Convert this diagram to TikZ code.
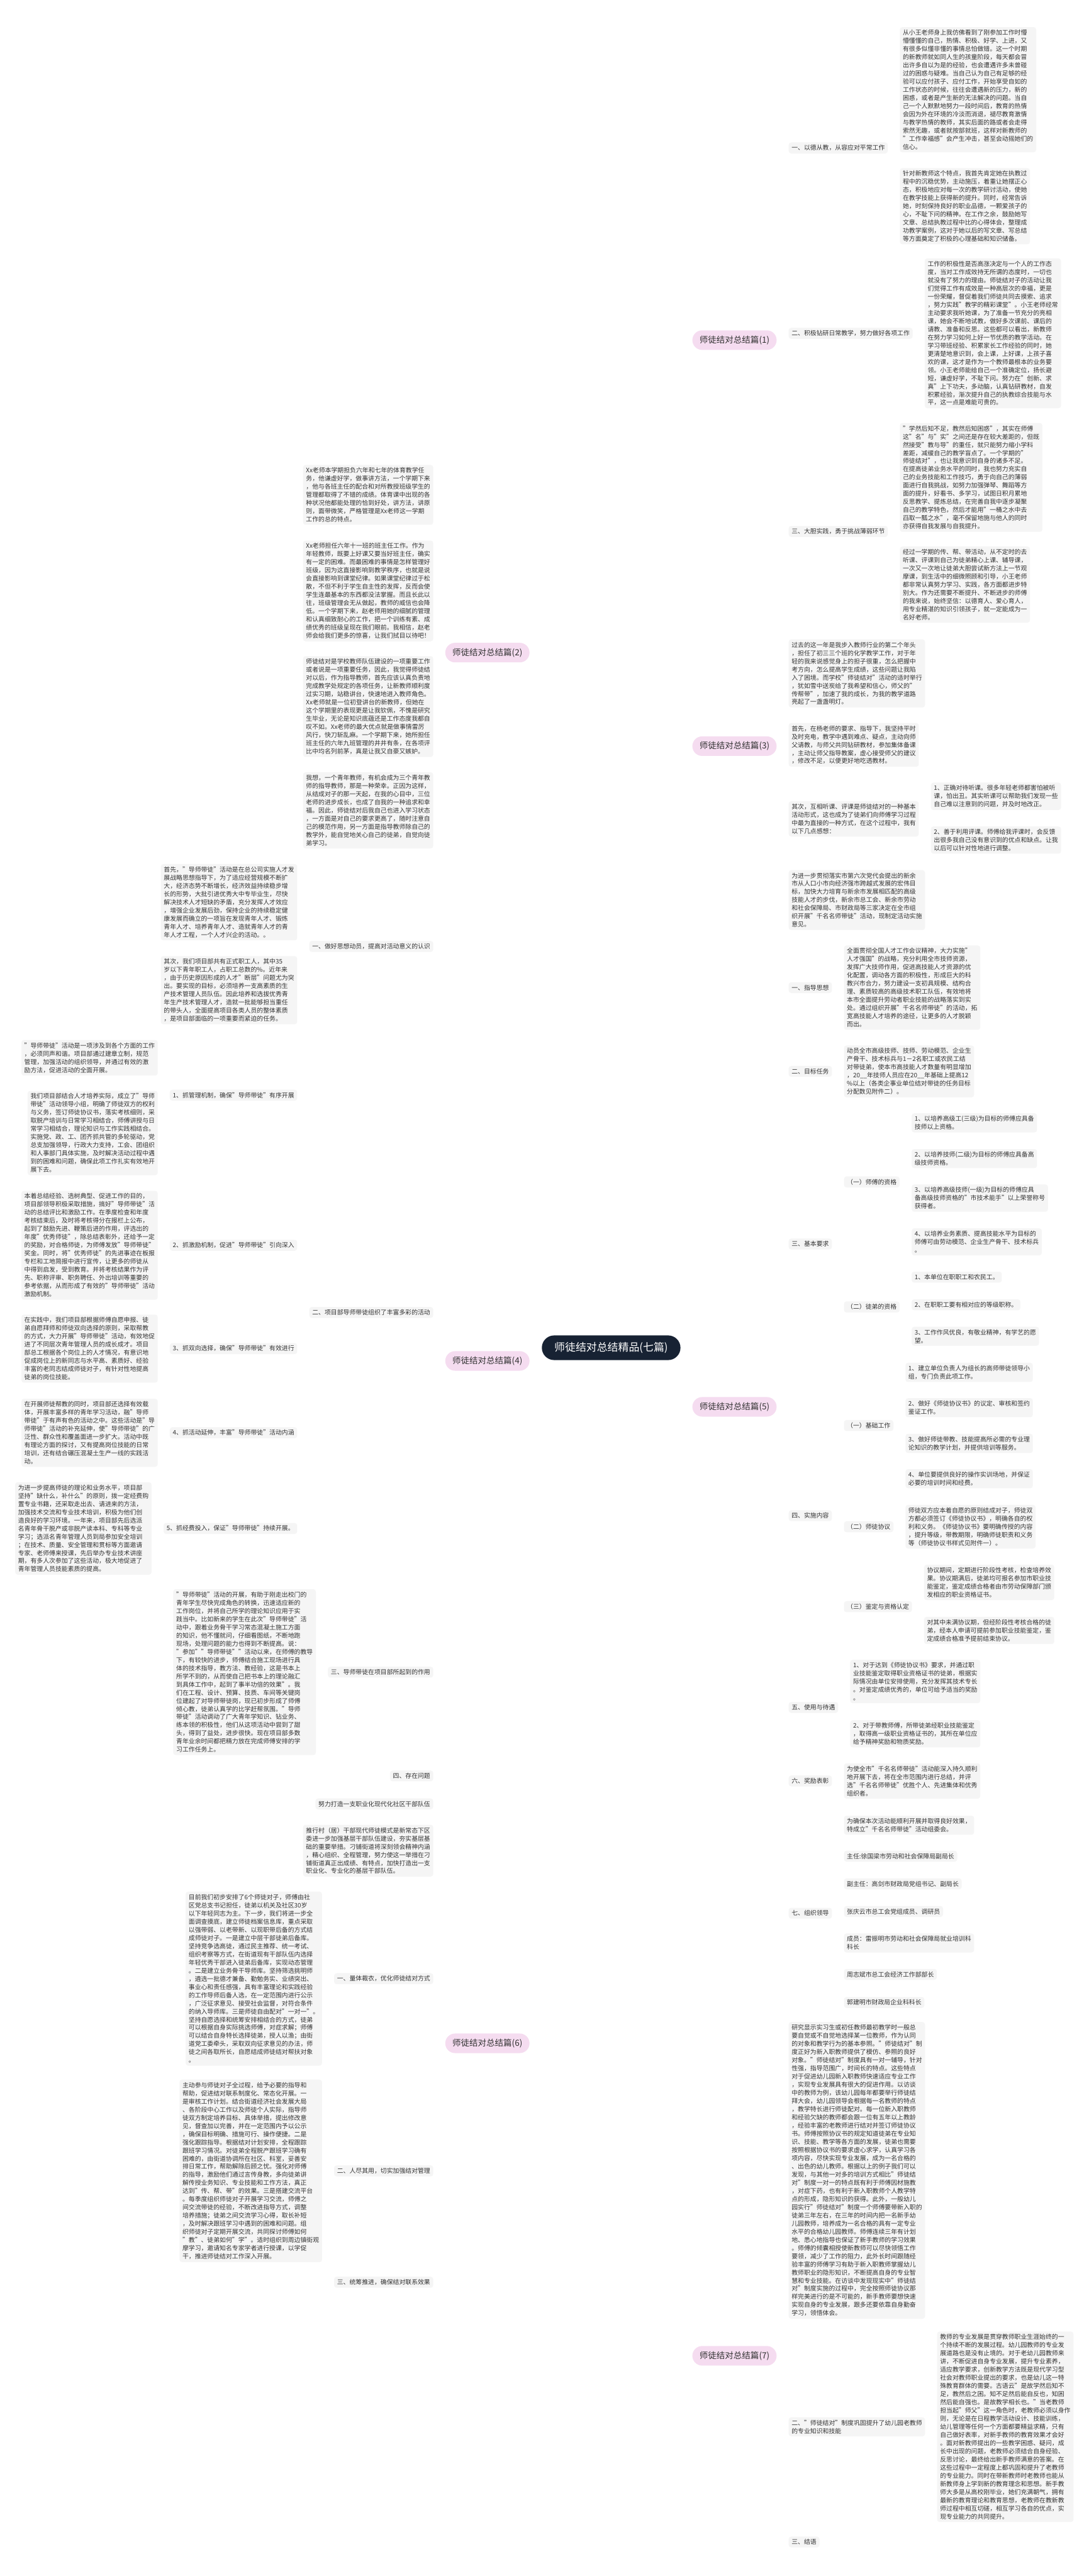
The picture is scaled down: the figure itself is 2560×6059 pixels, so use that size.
\documentclass[tikz,border=0pt]{standalone}
\usepackage{fontspec}
\setmainfont{Noto Sans CJK SC}
\usepackage{tikz}
\usetikzlibrary{positioning, backgrounds, calc}
\definecolor{rootfill}{HTML}{172233}
\definecolor{pinkfill}{HTML}{F5DCF0}
\definecolor{cardfill}{HTML}{F5F5F5}
\definecolor{inkline}{HTML}{1E2430}
\definecolor{inktext}{HTML}{333333}

\begin{document}
\begin{tikzpicture}[
    x=1pt, y=-1pt,
    rootnode/.style={rectangle, fill=rootfill, text=white, rounded corners=29pt, minimum width=326pt, minimum height=58pt, font=\fontsize{25}{30}\selectfont},
    sumnode/.style={rectangle, fill=pinkfill, text=inktext, rounded corners=23pt, minimum width=198pt, minimum height=46pt, font=\fontsize{20}{24}\selectfont},
    card/.style={rectangle, fill=cardfill, text=inktext, rounded corners=6pt, inner xsep=7pt, inner ysep=6pt, align=left, font=\fontsize{14.6}{19.2}\selectfont},
    trunk/.style={draw=inkline, line width=2.2pt},
    link/.style={draw=inkline, line width=2pt, rounded corners=10pt}
]
\useasboundingbox[fill=white] (0,0) rectangle (2560,6059);

% Centre
\node[rootnode] (root) at (1437,3170) {师徒结对总结精品(七篇)};

% Parts
\node[sumnode] (sum1) at (1727,800) {师徒结对总结篇(1)};
\node[sumnode] (sum2) at (1146,1535) {师徒结对总结篇(2)};
\node[sumnode] (sum3) at (1727,1755) {师徒结对总结篇(3)};
\node[sumnode] (sum4) at (1146,3201) {师徒结对总结篇(4)};
\node[sumnode] (sum5) at (1727,3309) {师徒结对总结篇(5)};
\node[sumnode] (sum6) at (1146,4806) {师徒结对总结篇(6)};
\node[sumnode] (sum7) at (1727,5541) {师徒结对总结篇(7)};

% Part 1
\node[card, anchor=west] (s1a) at ([shift={(28,-452)}]sum1.east) {一、以德从教，从容应对平常工作};
\node[card, anchor=west] (s1a1) at ([shift={(28,-137)}]s1a.east) {从小王老师身上我仿佛看到了刚参加工作时懵\\懵懂懂的自己，热情、积极、好学、上进，又\\有很多似懂非懂的事情总怕做错。这一个时期\\的新教师就如同人生的孩童阶段，每天都会冒\\出许多自以为是的经验，也会遭遇许多未曾碰\\过的困惑与疑难。当自己认为自己有足够的经\\验可以应付孩子、应付工作，开始享受自如的\\工作状态的时候，往往会遭遇新的压力，新的\\困惑，或者是产生新的无法解决的问题。当自\\己一个人默默地努力一段时间后，教育的热情\\会因为外在环境的冷淡而消退，褪尽教育激情\\与教学热情的教师，其实后面的路或者会走得\\索然无趣，或者就按部就班，这样对新教师的\\"工作幸福感"会产生冲击，甚至会动摇她们的\\信心。};
\node[card, anchor=west] (s1a2) at ([shift={(28,137)}]s1a.east) {针对新教师这个特点，我首先肯定她在执教过\\程中的沉稳优势，主动施压，着重让她摆正心\\态，积极地应对每一次的教学研讨活动，使她\\在教学技能上获得新的提升。同时，经常告诉\\她，时刻保持良好的职业品德，一颗爱孩子的\\心，不耻下问的精神。在工作之余，鼓励她写\\文章、总结执教过程中比的心得体会，整理成\\功教学案例，这对于她以后的写文章、写总结\\等方面奠定了积极的心理基础和知识储备。};
\node[card, anchor=west] (s1b) at ([shift={(28,-16)}]sum1.east) {二、积极钻研日常教学，努力做好各项工作};
\node[card, anchor=west] (s1b1) at ([shift={(28,0)}]s1b.east) {工作的积极性是否高涨决定与一个人的工作态\\度，当对工作成效持无所谓的态度时，一切也\\就没有了努力的理由。师徒结对子的活动让我\\们觉得工作有成效是一种高层次的幸福，更是\\一份荣耀，督促着我们师徒共同去摸索、追求\\，努力实践"教学的精彩课堂"。小王老师经常\\主动要求我听她课，为了准备一节充分的亮相\\课，她会不断地试教，做好多次课前、课后的\\请教、准备和反思。这些都可以看出，新教师\\在努力学习如何上好一节优质的教学活动。在\\学习带班经验、积累家长工作经验的同时，她\\更清楚地意识到，会上课，上好课，上孩子喜\\欢的课，这才是作为一个教师最根本的业务要\\领。小王老师能给自己一个准确定位，扬长避\\短，谦虚好学，不耻下问。努力在"创新、求\\真"上下功夫，多动脑，认真钻研教材，自发\\积累经验，渐次提升自己的执教综合技能与水\\平，这一点是难能可贵的。};
\node[card, anchor=west] (s1c) at ([shift={(28,450)}]sum1.east) {三、大胆实践，勇于挑战薄弱环节};
\node[card, anchor=west] (s1c1) at ([shift={(28,-127)}]s1c.east) {"学然后知不足，教然后知困惑"，其实在师傅\\这"名"与"实"之间还是存在较大差距的，但既\\然接受"教与导"的重任，就只能努力缩小学科\\差距，减缓自己的教学盲点了。一个学期的"\\师徒结对"，也让我意识到自身的诸多不足。\\在提高徒弟业务水平的同时，我也努力充实自\\己的业务技能和工作技巧，勇于向自己的薄弱\\面进行自我挑战，如努力加强弹琴、舞蹈等方\\面的提升，好看书、多学习，试图日积月累地\\反思教学、提炼总结，在完善自我中逐步凝聚\\自己的教学特色，然后才能用"一桶之水中去\\舀取一瓢之水"，毫不保留地施与他人的同时\\亦获得自我发展与自我提升。};
\node[card, anchor=west] (s1c2) at ([shift={(28,125)}]s1c.east) {经过一学期的传、帮、带活动，从不定时的去\\听课、评课到自己为徒弟精心上课、辅导课，\\一次又一次地让徒弟大胆尝试新方法上一节观\\摩课，到生活中的细微照顾和引导，小王老师\\都非常认真努力学习、实践，各方面都进步特\\别大。作为还需要不断提升、不断进步的师傅\\的我来说，始终坚信：以德育人、爱心育人，\\用专业精湛的知识引领孩子，就一定能成为一\\名好老师。};

% Part 2
\node[card, anchor=east] (s2a) at ([shift={(-28,-371)}]sum2.west) {Xx老师本学期担负六年和七年的体育教学任\\务，他谦虚好学，做事讲方法，一个学期下来\\，他与各班主任的配合和对所教授班级学生的\\管理都取得了不错的成绩。体育课中出现的各\\种状况他都能处理的恰到好处，讲方法，讲原\\则，面带微笑，严格管理是Xx老师这一学期\\工作的总的特点。};
\node[card, anchor=east] (s2b) at ([shift={(-28,-145)}]sum2.west) {Xx老师担任六年十一班的班主任工作。作为\\年轻教师，既要上好课又要当好班主任，确实\\有一定的困难。而最困难的事情是怎样管理好\\班级，因为这直接影响到教学秩序，也就是说\\会直接影响到课堂纪律。如果课堂纪律过于松\\散，不但不利于学生自主性的发挥，反而会使\\学生连最基本的东西都没法掌握。而且长此以\\往，班级管理会无从做起，教师的威信也会降\\低。一个学期下来，赵老师用她的细腻的管理\\和认真细致耐心的工作，把一个训练有素、成\\绩优秀的班级呈现在我们眼前。我相信，赵老\\师会给我们更多的惊喜，让我们拭目以待吧！};
\node[card, anchor=east] (s2c) at ([shift={(-28,127)}]sum2.west) {师徒结对是学校教师队伍建设的一项重要工作\\或者说是一项重要任务，因此，我觉得师徒结\\对以后，作为指导教师，首先应该认真负责地\\完成教学处规定的各项任务，让新教师顺利度\\过实习期，站稳讲台，快速地进入教师角色。\\Xx老师就是一位初登讲台的新教师，但她在\\这个学期里的表现更是让我钦佩，不愧是研究\\生毕业，无论是知识底蕴还是工作态度我都自\\叹不如。Xx老师的最大优点就是做事情雷厉\\风行，快刀斩乱麻。一个学期下来，她所担任\\班主任的六年九班管理的井井有条，在各项评\\比中均名列前茅，真是让我又自豪又嫉妒。};
\node[card, anchor=east] (s2d) at ([shift={(-28,371)}]sum2.west) {我想，一个青年教师，有机会成为三个青年教\\师的指导教师，那是一种荣幸。正因为这样，\\从结成对子的那一天起，在我的心目中，三位\\老师的进步成长，也成了自我的一种追求和幸\\福。因此，师徒结对后我自己也进入学习状态\\，一方面是对自己的要求更高了，随时注意自\\己的模范作用，另一方面是指导教师除自己的\\教学外，能自觉地关心自己的徒弟，自觉向徒\\弟学习。};

% Part 3
\node[card, anchor=west] (s3a) at ([shift={(28,-171)}]sum3.east) {过去的这一年是我步入教师行业的第二个年头\\，担任了初三三个班的化学教学工作，对于年\\轻的我来说感觉身上的担子很重，怎么把握中\\考方向，怎么提高学生成绩，这些问题让我陷\\入了困境。而学校"师徒结对"活动的适时举行\\，犹如雪中送炭给了我希望和信心，师父的"\\传帮带"，加速了我的成长，为我的教学道路\\亮起了一盏盏明灯。};
\node[card, anchor=west] (s3b) at ([shift={(28,-3)}]sum3.east) {首先，在杨老师的要求、指导下，我坚持平时\\及时充电，教学中遇到难点、疑点，主动向师\\父请教，与师父共同钻研教材，参加集体备课\\，主动让师父指导教案，虚心接受师父的建议\\，修改不足，以便更好地吃透教材。};
\node[card, anchor=west] (s3c) at ([shift={(28,171)}]sum3.east) {其次，互相听课、评课是师徒结对的一种基本\\活动形式，这也成为了徒弟们向师傅学习过程\\中最为直接的一种方式，在这个过程中，我有\\以下几点感想：};
\node[card, anchor=west] (s3c1) at ([shift={(28,-53)}]s3c.east) {1、正确对待听课。很多年轻老师都害怕被听\\课，怕出丑。其实听课可以帮助我们发现一些\\自己难以注意到的问题，并及时地改正。};
\node[card, anchor=west] (s3c2) at ([shift={(28,50)}]s3c.east) {2、善于利用评课。师傅给我评课时，会反馈\\出很多我自己没有意识到的优点和缺点。让我\\以后可以针对性地进行调整。};

% Part 4
\node[card, anchor=east] (s4a) at ([shift={(-28,-975)}]sum4.west) {一、做好思想动员，提高对活动意义的认识};
\node[card, anchor=east] (s4a1) at ([shift={(-28,-104)}]s4a.west) {首先，"导师带徒"活动是在总公司实施人才发\\展战略思想指导下，为了适应经营规模不断扩\\大，经济态势不断增长，经济效益持续稳步增\\长的形势，大批引进优秀大中专毕业生，尽快\\解决技术人才短缺的矛盾，充分发挥人才效应\\，增强企业发展后劲，保持企业的持续稳定健\\康发展而确立的一项旨在发现青年人才、锻炼\\青年人才、培养青年人才、造就青年人才的青\\年人才工程，一个人才兴企的活动。。};
\node[card, anchor=east] (s4a2) at ([shift={(-28,103)}]s4a.west) {其次，我们项目部共有正式职工人，其中35\\岁以下青年职工人，占职工总数的\%。近年来\\，由于历史原因形成的人才"断层"问题尤为突\\出。要实现的目标，必须培养一支高素质的生\\产技术管理人员队伍。因此培养和选拔优秀青\\年生产技术管理人才，造就一批能够担当重任\\的带头人，全面提高项目各类人员的整体素质\\，是项目部面临的一项重要而紧迫的任务。};
\node[card, anchor=east] (s4b) at ([shift={(-28,-114)}]sum4.west) {二、项目部导师带徒组织了丰富多彩的活动};
\node[card, anchor=east] (s4b1) at ([shift={(-28,-511)}]s4b.west) {1、抓管理机制，确保"导师带徒"有序开展};
\node[card, anchor=east] (s4b1a) at ([shift={(-28,-88)}]s4b1.west) {"导师带徒"活动是一项涉及到各个方面的工作\\，必须同声和谐。项目部通过建章立制，规范\\管理，加强活动的组织领导，并通过有效的激\\励方法，促进活动的全面开展。};
\node[card, anchor=east] (s4b1b) at ([shift={(-28,89)}]s4b1.west) {我们项目部结合人才培养实际，成立了"导师\\带徒"活动领导小组，明确了师徒双方的权利\\与义务，签订师徒协议书，落实考核细则，采\\取脱产培训与日常学习相结合，师傅讲授与日\\常学习相结合，理论知识与工作实践相结合。\\实施党、政、工、团齐抓共管的多轮驱动，党\\总支加强领导，行政大力支持，工会、团组织\\和人事部门具体实施，及时解决活动过程中遇\\到的困难和问题，确保此项工作扎实有效地开\\展下去。};
\node[card, anchor=east] (s4b2) at ([shift={(-28,-158)}]s4b.west) {2、抓激励机制，促进"导师带徒"引向深入};
\node[card, anchor=east] (s4b2a) at ([shift={(-28,0)}]s4b2.west) {本着总结经验、选树典型、促进工作的目的，\\项目部领导积极采取措施，搞好"导师带徒"活\\动的总结评比和激励工作。在季度检查和年度\\考核结束后，及时将考核得分在报栏上公布，\\起到了鼓励先进、鞭策后进的作用，评选出的\\年度"优秀师徒"，除总结表彰外，还给予一定\\的奖励，对合格师徒，为师傅发放"导师带徒"\\奖金。同时，将"优秀师徒"的先进事迹在板报\\专栏和工地简报中进行宣传，让更多的师徒从\\中得到启发，受到教育。并将考核结果作为评\\先、职称评审、职务聘任、外出培训等重要的\\参考依据，从而形成了有效的"导师带徒"活动\\激励机制。};
\node[card, anchor=east] (s4b3) at ([shift={(-28,85)}]s4b.west) {3、抓双向选择，确保"导师带徒"有效进行};
\node[card, anchor=east] (s4b3a) at ([shift={(-28,0)}]s4b3.west) {在实践中，我们项目部根据师傅自愿申报、徒\\弟自愿拜师和师徒双向选择的原则，采取帮教\\的方式，大力开展"导师带徒"活动，有效地促\\进了不同层次青年管理人员的成长成才。项目\\部总工根据各个岗位上的人才情况，有意识地\\促成岗位上的新同志与水平高、素质好、经验\\丰富的老同志结成师徒对子，有针对性地提高\\徒弟的岗位技能。};
\node[card, anchor=east] (s4b4) at ([shift={(-28,283)}]s4b.west) {4、抓活动延伸，丰富"导师带徒"活动内涵};
\node[card, anchor=east] (s4b4a) at ([shift={(-28,0)}]s4b4.west) {在开展师徒帮教的同时，项目部还选择有效载\\体，开展丰富多样的青年学习活动，融"导师\\带徒"于有声有色的活动之中。这些活动是"导\\师带徒"活动的补充延伸，使"导师带徒"的广\\泛性、群众性和覆盖面进一步扩大。活动中既\\有理论方面的探讨，又有提高岗位技能的日常\\培训，还有结合碾压混凝土生产一线的实践活\\动。};
\node[card, anchor=east] (s4b5) at ([shift={(-28,508)}]s4b.west) {5、抓经费投入，保证"导师带徒"持续开展。};
\node[card, anchor=east] (s4b5a) at ([shift={(-28,0)}]s4b5.west) {为进一步提高师徒的理论和业务水平，项目部\\坚持"缺什么，补什么"的原则，拨一定经费购\\置专业书籍，还采取走出去、请进来的方法，\\加强技术交流和专业技术培训，积极为他们创\\造良好的学习环境。一年来，项目部先后选派\\名青年骨干脱产或非脱产读本科、专科等专业\\学习；选派名青年管理人员到局参加安全培训\\；在技术、质量、安全管理和贯标等方面邀请\\专家、老师傅来授课，先后举办专业技术讲座\\期，有多人次参加了这些活动，极大地促进了\\青年管理人员技能素质的提高。};
\node[card, anchor=east] (s4c) at ([shift={(-28,732)}]sum4.west) {三、导师带徒在项目部所起到的作用};
\node[card, anchor=east] (s4c1) at ([shift={(-28,0)}]s4c.west) {"导师带徒"活动的开展，有助于刚走出校门的\\青年学生尽快完成角色的转换，迅速适应新的\\工作岗位，并将自己所学的理论知识应用于实\\践当中。比如新来的学生在此次"导师带徒"活\\动中，跟着业务骨干学习常态混凝土施工方面\\的知识，他不懂就问，仔细看图纸，不断地跑\\现场，处理问题的能力也得到不断提高。说：\\"参加""导师带徒""活动以来，在师傅的教导\\下，有较快的进步，师傅结合施工现场进行具\\体的技术指导，教方法、教经验，这是书本上\\所学不到的，从而使自己把书本上的理论融汇\\到具体工作中，起到了事半功倍的效果"。我\\们在工程、设计、预算、技质、车间等关键岗\\位建起了对导师带徒岗，现已初步形成了师傅\\倾心教，徒弟认真学的比学赶帮氛围。"导师\\带徒"活动调动了广大青年学知识、钻业务、\\练本领的积极性，他们从这项活动中尝到了甜\\头，得到了益处，进步很快。现在项目部多数\\青年业余时间都把精力放在完成师傅安排的学\\习工作任务上。};
\node[card, anchor=east] (s4d) at ([shift={(-28,976)}]sum4.west) {四、存在问题};

% Part 5
\node[card, anchor=west] (s5a) at ([shift={(28,-1192)}]sum5.east) {为进一步贯彻落实市第六次党代会提出的新余\\市从人口小市向经济强市跨越式发展的宏伟目\\标，加快大力培育与新余市发展相匹配的高级\\技能人才的步伐，新余市总工会、新余市劳动\\和社会保障局、市财政局等三家决定在全市组\\织开展"千名名师带徒"活动，现制定活动实施\\意见。};
\node[card, anchor=west] (s5b) at ([shift={(28,-986)}]sum5.east) {一、指导思想};
\node[card, anchor=west] (s5b1) at ([shift={(28,0)}]s5b.east) {全面贯彻全国人才工作会议精神，大力实施"\\人才强国"的战略，充分利用全市技师资源，\\发挥广大技师作用，促进高技能人才资源的优\\化配置，调动各方面的积极性，形成巨大的科\\教兴市合力，努力建设一支初具规模、结构合\\理、素质较高的高级技术职工队伍，有效地将\\本市全面提升劳动者职业技能的战略落实到实\\处。通过组织开展"千名名师带徒"的活动，拓\\宽高技能人才培养的途径，让更多的人才脱颖\\而出。};
\node[card, anchor=west] (s5c) at ([shift={(28,-789)}]sum5.east) {二、目标任务};
\node[card, anchor=west] (s5c1) at ([shift={(28,0)}]s5c.east) {动员全市高级技师、技师、劳动模范、企业生\\产骨干、技术标兵与1－2名职工或农民工结\\对带徒弟，使本市高技能人才数量有明显增加\\，20\_\_年技师人员应在20\_\_年基础上提高12\\\%以上（各类企事业单位结对带徒的任务目标\\分配数见附件二）。};
\node[card, anchor=west] (s5d) at ([shift={(28,-383)}]sum5.east) {三、基本要求};
\node[card, anchor=west] (s5d1) at ([shift={(28,-146)}]s5d.east) {（一）师傅的资格};
\node[card, anchor=west] (s5d1a) at ([shift={(28,-139)}]s5d1.east) {1、以培养高级工(三级)为目标的师傅应具备\\技师以上资格。};
\node[card, anchor=west] (s5d1b) at ([shift={(28,-55)}]s5d1.east) {2、以培养技师(二级)为目标的师傅应具备高\\级技师资格。};
\node[card, anchor=west] (s5d1c) at ([shift={(28,38)}]s5d1.east) {3、以培养高级技师(一级)为目标的师傅应具\\备高级技师资格的"市技术能手"以上荣誉称号\\获得者。};
\node[card, anchor=west] (s5d1d) at ([shift={(28,141)}]s5d1.east) {4、以培养业务素质、提高技能水平为目标的\\师傅可由劳动模范、企业生产骨干、技术标兵\\。};
\node[card, anchor=west] (s5d2) at ([shift={(28,148)}]s5d.east) {（二）徒弟的资格};
\node[card, anchor=west] (s5d2a) at ([shift={(28,-70)}]s5d2.east) {1、本单位在职职工和农民工。};
\node[card, anchor=west] (s5d2b) at ([shift={(28,-5)}]s5d2.east) {2、在职职工要有相对应的等级职称。};
\node[card, anchor=west] (s5d2c) at ([shift={(28,69)}]s5d2.east) {3、工作作风优良，有敬业精神，有学艺的愿\\望。};
\node[card, anchor=west] (s5e) at ([shift={(28,256)}]sum5.east) {四、实施内容};
\node[card, anchor=west] (s5e1) at ([shift={(28,-212)}]s5e.east) {（一）基础工作};
\node[card, anchor=west] (s5e1a) at ([shift={(28,-125)}]s5e1.east) {1、建立单位负责人为组长的高师带徒领导小\\组，专门负责此项工作。};
\node[card, anchor=west] (s5e1b) at ([shift={(28,-42)}]s5e1.east) {2、做好《师徒协议书》的议定、审核和签约\\鉴证工作。};
\node[card, anchor=west] (s5e1c) at ([shift={(28,42)}]s5e1.east) {3、做好师徒带教、技能提高所必需的专业理\\论知识的教学计划，并提供培训等服务。};
\node[card, anchor=west] (s5e1d) at ([shift={(28,125)}]s5e1.east) {4、单位要提供良好的操作实训场地，并保证\\必要的培训时间和经费。};
\node[card, anchor=west] (s5e2) at ([shift={(28,26)}]s5e.east) {（二）师徒协议};
\node[card, anchor=west] (s5e2a) at ([shift={(28,0)}]s5e2.east) {师徒双方应本着自愿的原则结成对子，师徒双\\方都必须签订《师徒协议书》，明确各自的权\\利和义务。《师徒协议书》要明确传授的内容\\，提升等级，带教期限，明确师徒职责和义务\\等（师徒协议书样式见附件一）。};
\node[card, anchor=west] (s5e3) at ([shift={(28,214)}]s5e.east) {（三）鉴定与资格认定};
\node[card, anchor=west] (s5e3a) at ([shift={(28,-57)}]s5e3.east) {协议期间，定期进行阶段性考核，检查培养效\\果。协议期满后，徒弟均可报名参加市职业技\\能鉴定，鉴定成绩合格者由市劳动保障部门颁\\发相应的职业资格证书。};
\node[card, anchor=west] (s5e3b) at ([shift={(28,56)}]s5e3.east) {对其中未满协议期，但经阶段性考核合格的徒\\弟，经本人申请可提前参加职业技能鉴定，鉴\\定成绩合格准予提前结束协议。};
\node[card, anchor=west] (s5f) at ([shift={(28,707)}]sum5.east) {五、使用与待遇};
\node[card, anchor=west] (s5f1) at ([shift={(28,-61)}]s5f.east) {1、对于达到《师徒协议书》要求，并通过职\\业技能鉴定取得职业资格证书的徒弟，根据实\\际情况由单位安排使用，充分发挥其技术专长\\。对鉴定成绩优秀的，单位可给予适当的奖励\\。};
\node[card, anchor=west] (s5f2) at ([shift={(28,62)}]s5f.east) {2、对于带教师傅，所带徒弟经职业技能鉴定\\，取得高一级职业资格证书的，其所在单位应\\给予精神奖励和物质奖励。};
\node[card, anchor=west] (s5g) at ([shift={(28,880)}]sum5.east) {六、奖励表彰};
\node[card, anchor=west] (s5g1) at ([shift={(28,0)}]s5g.east) {为使全市"千名名师带徒"活动能深入持久顺利\\地开展下去，将在全市范围内进行总结，并评\\选"千名名师带徒"优胜个人、先进集体和优秀\\组织者。};
\node[card, anchor=west] (s5h) at ([shift={(28,1191)}]sum5.east) {七、组织领导};
\node[card, anchor=west] (s5h1) at ([shift={(28,-207)}]s5h.east) {为确保本次活动能顺利开展并取得良好效果，\\特成立"千名名师带徒"活动组委会。};
\node[card, anchor=west] (s5h2) at ([shift={(28,-134)}]s5h.east) {主任:徐国梁市劳动和社会保障局副局长};
\node[card, anchor=west] (s5h3) at ([shift={(28,-69)}]s5h.east) {副主任：高剑市财政局党组书记、副局长};
\node[card, anchor=west] (s5h4) at ([shift={(28,-4)}]s5h.east) {张庆云市总工会党组成员、调研员};
\node[card, anchor=west] (s5h5) at ([shift={(28,70)}]s5h.east) {成员：雷振明市劳动和社会保障局就业培训科\\科长};
\node[card, anchor=west] (s5h6) at ([shift={(28,144)}]s5h.east) {周志斌市总工会经济工作部部长};
\node[card, anchor=west] (s5h7) at ([shift={(28,210)}]s5h.east) {郭建明市财政局企业科科长};

% Part 6
\node[card, anchor=east] (s6a) at ([shift={(-28,-563)}]sum6.west) {努力打造一支职业化现代化社区干部队伍};
\node[card, anchor=east] (s6b) at ([shift={(-28,-453)}]sum6.west) {推行村（居）干部现代师徒模式是新常态下区\\委进一步加强基层干部队伍建设，夯实基层基\\础的重要举措。刁铺街道将深刻领会精神内涵\\，精心组织、全程管理，努力使这一举措在刁\\铺街道真正出成绩、有特点，加快打造出一支\\职业化、专业化的基层干部队伍。};
\node[card, anchor=east] (s6c) at ([shift={(-28,-152)}]sum6.west) {一、量体裁衣，优化师徒结对方式};
\node[card, anchor=east] (s6c1) at ([shift={(-28,0)}]s6c.west) {目前我们初步安排了6个师徒对子，师傅由社\\区党总支书记担任，徒弟以机关及社区30岁\\以下年轻同志为主。下一步，我们将进一步全\\面调查摸底，建立师徒档案信息库，重点采取\\以强带弱、以老带新、以现职带后备的方式结\\成师徒对子。一是建立中层干部徒弟后备库。\\坚持竞争选高徒，通过民主推荐、统一考试、\\组织考察等方式，在街道现有干部队伍内选择\\年轻优秀干部进入徒弟后备库，实现动态管理\\。二是建立业务骨干导师库。坚持筛选挑明师\\，遴选一批德才兼备、勤勉务实、业绩突出、\\事业心和责任感强，具有丰富理论和实践经验\\的工作导师后备人选，在一定范围内进行公示\\，广泛征求意见、接受社会监督，对符合条件\\的纳入导师库。三是师徒自由配对"一对一"。\\坚持自愿选择和统筹安排相结合的方式，徒弟\\可以根据自身实际挑选师傅，对症求解；师傅\\可以结合自身特长选择徒弟，授人以渔；由街\\道党工委牵头，采取双向征求意见的办法，师\\徒之间各取所长，自愿结成师徒结对帮扶对象\\。};
\node[card, anchor=east] (s6d) at ([shift={(-28,300)}]sum6.west) {二、人尽其用，切实加强结对管理};
\node[card, anchor=east] (s6d1) at ([shift={(-28,0)}]s6d.west) {主动参与师徒对子全过程，给予必要的指导和\\帮助，促进结对联系制度化、常态化开展。一\\是审核工作计划。结合街道经济社会发展大局\\、各阶段中心工作以及师徒个人实际，指导师\\徒双方制定培养目标、具体举措，提出修改意\\见，督查加以完善，并在一定范围内予以公示\\，确保目标明确、措施可行、操作便捷。二是\\强化跟踪指导。根据结对计划安排，全程跟踪\\跟班学习情况。对徒弟全程脱产跟班学习确有\\困难的，由街道协调所在社区、科室，妥善安\\排日常工作，帮助解除后顾之忧。强化对师傅\\的指导，激励他们通过言传身教，多向徒弟讲\\解传授业务知识、专业技能和工作方法，真正\\达到"传、帮、带"的效果。三是搭建交流平台\\。每季度组织师徒对子开展学习交流，师傅之\\间交流带徒的经验，不断改进指导方式，调整\\培养措施；徒弟之间交流学习心得，取长补短\\，及时解决跟班学习中遇到的困难和问题。组\\织师徒对子定期开展交流，共同探讨师傅如何\\"教"、徒弟如何"学"。适时组织到周边镇街观\\摩学习，邀请知名专家学者进行授课，以学促\\干，推进师徒结对工作深入开展。};
\node[card, anchor=east] (s6e) at ([shift={(-28,562)}]sum6.west) {三、统筹推进，确保结对联系效果};

% Part 7
\node[card, anchor=west] (s7a) at ([shift={(28,-436)}]sum7.east) {研究显示实习生或初任教师最初教学时一般总\\要自觉或不自觉地选择某一位教师，作为认同\\的对象和教学行为的基本参照。"师徒结对"制\\度正好为新入职教师提供了模仿、参照的良好\\对象。"师徒结对"制度具有一对一辅导，针对\\性强，指导范围广，时间长的特点。这些特点\\对于促进幼儿园新入职教师快速适应专业工作\\，实现专业发展具有很大的促进作用。以访谈\\中的教师为例，该幼儿园每年都要举行师徒结\\拜大会，幼儿园领导会根据每一名教师的特点\\，教学特长进行师徒配对。每一位新入职教师\\和经验欠缺的教师都会跟一位有五年以上教龄\\，经验丰富的老教师进行结对并签订师徒协议\\书。师傅按照协议书的规定知道徒弟在专业知\\识、技能、教学等各方面的发展，徒弟也需要\\按照根据协议书的要求虚心求学，认真学习各\\项内容，尽快实现专业发展，成为一名合格的\\、出色的幼儿教师。根据以上的例子我们可以\\发现，与其他一对多的培训方式相比"师徒结\\对"制度一对一的特点既有利于师傅因材施教\\，对症下药，也有利于新入职教师个人教学特\\点的形成，隐形知识的获得。此外，一般幼儿\\园实行"师徒结对"制度一个师傅要带新入职的\\徒弟三年左右，在三年的时间内把一名新手幼\\儿园教师，培养成为一名合格的具有一定专业\\水平的合格幼儿园教师。师傅连续三年有计划\\地、悉心地指导也保证了新手教师的学习效果\\。师傅的倾囊相授使新教师可以尽快领悟工作\\要领，减少了工作的阻力，此外长时间跟随经\\验丰富的师傅学习有助于新入职教师掌握幼儿\\教师职业的隐形知识，不断提高自身的专业智\\慧和专业技能。在访谈中发现现实中"师徒结\\对"制度实施的过程中，完全按照师徒协议那\\样完美进行的是不可能的，新手教师要想快速\\实现自身的专业发展，跟多还要依靠自身勤奋\\学习，领悟体会。};
\node[card, anchor=west] (s7b) at ([shift={(28,167)}]sum7.east) {二、"师徒结对"制度巩固提升了幼儿园老教师\\的专业知识和技能};
\node[card, anchor=west] (s7b1) at ([shift={(28,0)}]s7b.east) {教师的专业发展是贯穿教师职业生涯始终的一\\个持续不断的发展过程。幼儿园教师的专业发\\展道路也是没有止境的。对于老幼儿园教师来\\讲，不断促进自身专业发展，提升专业素养，\\适应教学要求，创新教学方法既是现代学习型\\社会对教师职业提出的要求，也是幼儿这一特\\殊教育群体的需要。古语云"是故学然后知不\\足，教然后之困。知不足然后能自反也，知困\\然后能自强也。是故教学相长也。"当老教师\\担当起"师父"这一角色时，老教师必须以身作\\则，无论是在日程教学活动设计、技能训练，\\幼儿管理等任何一个方面都要精益求精，只有\\自己做好表率，对新手教师的教育效果才会好\\。面对新教师提出的一些教学困惑、疑问，成\\长中出现的问题，老教师必须结合自身经验、\\反思讨论，最终给出新手教师满意的答案。在\\这些过程中一定程度上都巩固和提升了老教师\\的专业能力。同时在带新教师时老教师也能从\\新教师身上学到新的教育理念和思想。新手教\\师大多是从高校刚毕业，她们充满朝气，拥有\\最新的教育理论和教育思想，老教师在教新教\\师过程中相互切磋，相互学习各自的优点，实\\现专业能力的共同提升。};
\node[card, anchor=west] (s7c) at ([shift={(28,438)}]sum7.east) {三、结语};

\begin{scope}[on background layer]
% Trunk curves
\draw[trunk] (root.center) .. controls (root.center |- sum1) .. (sum1.west);
\draw[trunk] (root.center) .. controls (root.center |- sum2) .. (sum2.east);
\draw[trunk] (root.center) .. controls (root.center |- sum3) .. (sum3.west);
\draw[trunk] (root.center) .. controls (root.center |- sum4) .. (sum4.east);
\draw[trunk] (root.center) .. controls (root.center |- sum5) .. (sum5.west);
\draw[trunk] (root.center) .. controls (root.center |- sum6) .. (sum6.east);
\draw[trunk] (root.center) .. controls (root.center |- sum7) .. (sum7.west);

% Part 1 links
\draw[link] (sum1.east) -- ++(14,0) |- (s1a.west);
\draw[link] (sum1.east) -- ++(14,0) |- (s1b.west);
\draw[link] (sum1.east) -- ++(14,0) |- (s1c.west);
\draw[link] (s1a.east) -- ++(14,0) |- (s1a1.west);
\draw[link] (s1a.east) -- ++(14,0) |- (s1a2.west);
\draw[link] (s1b.east) -- ++(14,0) |- (s1b1.west);
\draw[link] (s1c.east) -- ++(14,0) |- (s1c1.west);
\draw[link] (s1c.east) -- ++(14,0) |- (s1c2.west);

% Part 2 links
\draw[link] (sum2.west) -- ++(-14,0) |- (s2a.east);
\draw[link] (sum2.west) -- ++(-14,0) |- (s2b.east);
\draw[link] (sum2.west) -- ++(-14,0) |- (s2c.east);
\draw[link] (sum2.west) -- ++(-14,0) |- (s2d.east);

% Part 3 links
\draw[link] (sum3.east) -- ++(14,0) |- (s3a.west);
\draw[link] (sum3.east) -- ++(14,0) |- (s3b.west);
\draw[link] (sum3.east) -- ++(14,0) |- (s3c.west);
\draw[link] (s3c.east) -- ++(14,0) |- (s3c1.west);
\draw[link] (s3c.east) -- ++(14,0) |- (s3c2.west);

% Part 4 links
\draw[link] (sum4.west) -- ++(-14,0) |- (s4a.east);
\draw[link] (sum4.west) -- ++(-14,0) |- (s4b.east);
\draw[link] (sum4.west) -- ++(-14,0) |- (s4c.east);
\draw[link] (sum4.west) -- ++(-14,0) |- (s4d.east);
\draw[link] (s4a.west) -- ++(-14,0) |- (s4a1.east);
\draw[link] (s4a.west) -- ++(-14,0) |- (s4a2.east);
\draw[link] (s4b.west) -- ++(-14,0) |- (s4b1.east);
\draw[link] (s4b.west) -- ++(-14,0) |- (s4b2.east);
\draw[link] (s4b.west) -- ++(-14,0) |- (s4b3.east);
\draw[link] (s4b.west) -- ++(-14,0) |- (s4b4.east);
\draw[link] (s4b.west) -- ++(-14,0) |- (s4b5.east);
\draw[link] (s4b1.west) -- ++(-14,0) |- (s4b1a.east);
\draw[link] (s4b1.west) -- ++(-14,0) |- (s4b1b.east);
\draw[link] (s4b2.west) -- ++(-14,0) |- (s4b2a.east);
\draw[link] (s4b3.west) -- ++(-14,0) |- (s4b3a.east);
\draw[link] (s4b4.west) -- ++(-14,0) |- (s4b4a.east);
\draw[link] (s4b5.west) -- ++(-14,0) |- (s4b5a.east);
\draw[link] (s4c.west) -- ++(-14,0) |- (s4c1.east);

% Part 5 links
\draw[link] (sum5.east) -- ++(14,0) |- (s5a.west);
\draw[link] (sum5.east) -- ++(14,0) |- (s5b.west);
\draw[link] (sum5.east) -- ++(14,0) |- (s5c.west);
\draw[link] (sum5.east) -- ++(14,0) |- (s5d.west);
\draw[link] (sum5.east) -- ++(14,0) |- (s5e.west);
\draw[link] (sum5.east) -- ++(14,0) |- (s5f.west);
\draw[link] (sum5.east) -- ++(14,0) |- (s5g.west);
\draw[link] (sum5.east) -- ++(14,0) |- (s5h.west);
\draw[link] (s5b.east) -- ++(14,0) |- (s5b1.west);
\draw[link] (s5c.east) -- ++(14,0) |- (s5c1.west);
\draw[link] (s5d.east) -- ++(14,0) |- (s5d1.west);
\draw[link] (s5d.east) -- ++(14,0) |- (s5d2.west);
\draw[link] (s5d1.east) -- ++(14,0) |- (s5d1a.west);
\draw[link] (s5d1.east) -- ++(14,0) |- (s5d1b.west);
\draw[link] (s5d1.east) -- ++(14,0) |- (s5d1c.west);
\draw[link] (s5d1.east) -- ++(14,0) |- (s5d1d.west);
\draw[link] (s5d2.east) -- ++(14,0) |- (s5d2a.west);
\draw[link] (s5d2.east) -- ++(14,0) |- (s5d2b.west);
\draw[link] (s5d2.east) -- ++(14,0) |- (s5d2c.west);
\draw[link] (s5e.east) -- ++(14,0) |- (s5e1.west);
\draw[link] (s5e.east) -- ++(14,0) |- (s5e2.west);
\draw[link] (s5e.east) -- ++(14,0) |- (s5e3.west);
\draw[link] (s5e1.east) -- ++(14,0) |- (s5e1a.west);
\draw[link] (s5e1.east) -- ++(14,0) |- (s5e1b.west);
\draw[link] (s5e1.east) -- ++(14,0) |- (s5e1c.west);
\draw[link] (s5e1.east) -- ++(14,0) |- (s5e1d.west);
\draw[link] (s5e2.east) -- ++(14,0) |- (s5e2a.west);
\draw[link] (s5e3.east) -- ++(14,0) |- (s5e3a.west);
\draw[link] (s5e3.east) -- ++(14,0) |- (s5e3b.west);
\draw[link] (s5f.east) -- ++(14,0) |- (s5f1.west);
\draw[link] (s5f.east) -- ++(14,0) |- (s5f2.west);
\draw[link] (s5g.east) -- ++(14,0) |- (s5g1.west);
\draw[link] (s5h.east) -- ++(14,0) |- (s5h1.west);
\draw[link] (s5h.east) -- ++(14,0) |- (s5h2.west);
\draw[link] (s5h.east) -- ++(14,0) |- (s5h3.west);
\draw[link] (s5h.east) -- ++(14,0) |- (s5h4.west);
\draw[link] (s5h.east) -- ++(14,0) |- (s5h5.west);
\draw[link] (s5h.east) -- ++(14,0) |- (s5h6.west);
\draw[link] (s5h.east) -- ++(14,0) |- (s5h7.west);

% Part 6 links
\draw[link] (sum6.west) -- ++(-14,0) |- (s6a.east);
\draw[link] (sum6.west) -- ++(-14,0) |- (s6b.east);
\draw[link] (sum6.west) -- ++(-14,0) |- (s6c.east);
\draw[link] (sum6.west) -- ++(-14,0) |- (s6d.east);
\draw[link] (sum6.west) -- ++(-14,0) |- (s6e.east);
\draw[link] (s6c.west) -- ++(-14,0) |- (s6c1.east);
\draw[link] (s6d.west) -- ++(-14,0) |- (s6d1.east);

% Part 7 links
\draw[link] (sum7.east) -- ++(14,0) |- (s7a.west);
\draw[link] (sum7.east) -- ++(14,0) |- (s7b.west);
\draw[link] (sum7.east) -- ++(14,0) |- (s7c.west);
\draw[link] (s7b.east) -- ++(14,0) |- (s7b1.west);
\end{scope}

\end{tikzpicture}
\end{document}
